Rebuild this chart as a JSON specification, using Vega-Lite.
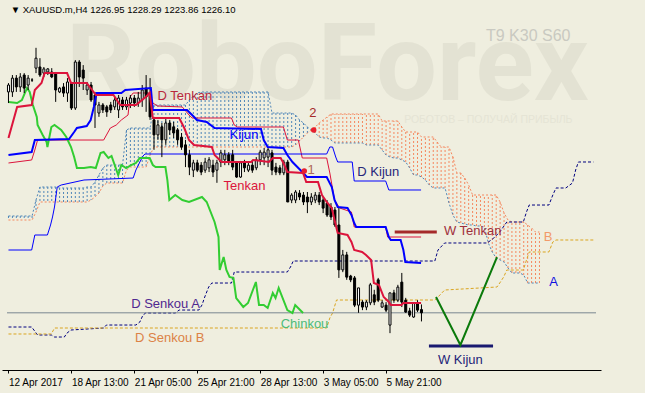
{
"$schema":"https://vega.github.io/schema/vega-lite/v6.json",
"width":599,"height":370,
"padding":{"left":2,"top":0,"right":44,"bottom":23},
"autosize":{"type":"none"},
"background":"#EFEEDF",
"view":{"stroke":null,"fill":"#EFEEDF"},
"config":{"text":{"font":"Liberation Sans"},"axis":{"grid":false,"domainColor":"#000000","tickColor":"#000000","labelColor":"#000000","labelFont":"Liberation Sans","labelFontSize":10,"tickSize":3}},
"datasets":{
"candles":[
{"t":0,"o":1283.7,"h":1286.0,"l":1280.8,"c":1285.5},
{"t":1,"o":1283.7,"h":1288.1,"l":1282.4,"c":1287.3},
{"t":2,"o":1287.3,"h":1288.1,"l":1283.7,"c":1285.0},
{"t":3,"o":1285.0,"h":1288.6,"l":1283.7,"c":1287.6},
{"t":4,"o":1288.1,"h":1288.6,"l":1283.4,"c":1284.7},
{"t":5,"o":1285.5,"h":1288.1,"l":1284.2,"c":1287.3},
{"t":6,"o":1286.8,"h":1287.3,"l":1286.3,"c":1286.8},
{"t":7,"o":1289.9,"h":1295.2,"l":1288.6,"c":1292.5},
{"t":8,"o":1290.2,"h":1292.5,"l":1287.6,"c":1288.1},
{"t":9,"o":1288.6,"h":1290.2,"l":1287.6,"c":1289.7},
{"t":10,"o":1288.9,"h":1289.9,"l":1288.1,"c":1289.7},
{"t":11,"o":1288.9,"h":1289.9,"l":1287.3,"c":1287.6},
{"t":12,"o":1288.6,"h":1288.9,"l":1281.1,"c":1284.2},
{"t":13,"o":1283.7,"h":1285.0,"l":1283.4,"c":1284.7},
{"t":14,"o":1285.0,"h":1286.0,"l":1282.4,"c":1283.4},
{"t":15,"o":1283.4,"h":1287.3,"l":1281.1,"c":1286.3},
{"t":16,"o":1286.0,"h":1286.3,"l":1279.0,"c":1279.5},
{"t":17,"o":1279.5,"h":1292.0,"l":1279.0,"c":1291.5},
{"t":18,"o":1291.5,"h":1292.0,"l":1285.0,"c":1287.6},
{"t":19,"o":1289.4,"h":1290.7,"l":1284.2,"c":1287.3},
{"t":20,"o":1284.2,"h":1286.3,"l":1282.9,"c":1285.5},
{"t":21,"o":1285.5,"h":1286.3,"l":1281.1,"c":1281.6},
{"t":22,"o":1282.9,"h":1283.7,"l":1274.3,"c":1280.3},
{"t":23,"o":1278.2,"h":1281.1,"l":1277.2,"c":1280.3},
{"t":24,"o":1280.3,"h":1280.8,"l":1278.2,"c":1279.0},
{"t":25,"o":1279.8,"h":1280.3,"l":1277.2,"c":1278.5},
{"t":26,"o":1280.3,"h":1281.1,"l":1278.2,"c":1279.0},
{"t":27,"o":1279.8,"h":1282.4,"l":1279.0,"c":1281.6},
{"t":28,"o":1279.0,"h":1282.9,"l":1276.9,"c":1282.1},
{"t":29,"o":1281.6,"h":1282.4,"l":1279.0,"c":1279.8},
{"t":30,"o":1279.8,"h":1282.4,"l":1279.0,"c":1281.6},
{"t":31,"o":1280.8,"h":1282.9,"l":1279.5,"c":1282.1},
{"t":32,"o":1282.1,"h":1282.9,"l":1279.8,"c":1280.8},
{"t":33,"o":1280.8,"h":1283.7,"l":1279.8,"c":1282.1},
{"t":34,"o":1281.6,"h":1285.5,"l":1279.8,"c":1284.2},
{"t":35,"o":1284.7,"h":1288.1,"l":1278.5,"c":1282.4},
{"t":36,"o":1282.9,"h":1287.3,"l":1276.4,"c":1277.2},
{"t":37,"o":1276.4,"h":1277.2,"l":1268.6,"c":1272.5},
{"t":38,"o":1272.5,"h":1276.4,"l":1271.2,"c":1275.1},
{"t":39,"o":1274.6,"h":1275.6,"l":1266.7,"c":1271.2},
{"t":40,"o":1271.2,"h":1276.9,"l":1269.9,"c":1275.6},
{"t":41,"o":1275.6,"h":1276.4,"l":1272.5,"c":1273.8},
{"t":42,"o":1274.6,"h":1275.9,"l":1271.7,"c":1273.0},
{"t":43,"o":1273.8,"h":1274.3,"l":1269.9,"c":1271.2},
{"t":44,"o":1271.9,"h":1273.0,"l":1268.6,"c":1269.3},
{"t":45,"o":1269.9,"h":1271.2,"l":1264.1,"c":1267.3},
{"t":46,"o":1267.3,"h":1268.6,"l":1262.0,"c":1264.1},
{"t":47,"o":1263.3,"h":1266.0,"l":1261.5,"c":1265.2},
{"t":48,"o":1265.2,"h":1266.0,"l":1262.8,"c":1263.3},
{"t":49,"o":1264.6,"h":1265.4,"l":1262.0,"c":1262.8},
{"t":50,"o":1263.3,"h":1266.5,"l":1262.6,"c":1265.4},
{"t":51,"o":1263.9,"h":1266.7,"l":1262.8,"c":1266.0},
{"t":52,"o":1264.6,"h":1266.0,"l":1261.5,"c":1262.8},
{"t":53,"o":1263.3,"h":1266.0,"l":1260.0,"c":1265.2},
{"t":54,"o":1265.4,"h":1268.6,"l":1264.1,"c":1267.8},
{"t":55,"o":1266.0,"h":1268.6,"l":1264.6,"c":1267.3},
{"t":56,"o":1267.3,"h":1268.0,"l":1264.6,"c":1265.4},
{"t":57,"o":1267.3,"h":1268.6,"l":1263.3,"c":1264.1},
{"t":58,"o":1265.2,"h":1265.7,"l":1261.3,"c":1261.5},
{"t":59,"o":1261.5,"h":1265.7,"l":1261.3,"c":1265.2},
{"t":60,"o":1265.4,"h":1266.0,"l":1262.8,"c":1263.9},
{"t":61,"o":1263.3,"h":1265.2,"l":1262.8,"c":1264.6},
{"t":62,"o":1264.6,"h":1266.0,"l":1262.6,"c":1263.3},
{"t":63,"o":1263.9,"h":1266.7,"l":1263.3,"c":1266.0},
{"t":64,"o":1266.0,"h":1268.6,"l":1264.6,"c":1268.0},
{"t":65,"o":1266.5,"h":1269.1,"l":1264.6,"c":1268.0},
{"t":66,"o":1266.7,"h":1269.1,"l":1264.1,"c":1268.6},
{"t":67,"o":1267.8,"h":1268.6,"l":1262.0,"c":1263.3},
{"t":68,"o":1264.1,"h":1265.2,"l":1262.0,"c":1262.8},
{"t":69,"o":1263.9,"h":1264.6,"l":1262.0,"c":1262.6},
{"t":70,"o":1262.6,"h":1266.0,"l":1262.0,"c":1265.4},
{"t":71,"o":1265.4,"h":1266.0,"l":1255.0,"c":1255.0},
{"t":72,"o":1255.5,"h":1257.3,"l":1254.7,"c":1256.8},
{"t":73,"o":1255.5,"h":1258.1,"l":1254.7,"c":1257.6},
{"t":74,"o":1257.3,"h":1258.1,"l":1255.5,"c":1256.3},
{"t":75,"o":1256.8,"h":1257.6,"l":1254.2,"c":1255.0},
{"t":76,"o":1256.3,"h":1257.6,"l":1252.1,"c":1255.0},
{"t":77,"o":1255.0,"h":1257.3,"l":1254.2,"c":1256.3},
{"t":78,"o":1255.5,"h":1257.6,"l":1254.7,"c":1256.8},
{"t":79,"o":1256.8,"h":1257.6,"l":1254.2,"c":1255.0},
{"t":80,"o":1255.5,"h":1256.3,"l":1252.1,"c":1253.4},
{"t":81,"o":1254.7,"h":1255.5,"l":1251.1,"c":1251.6},
{"t":82,"o":1253.7,"h":1254.7,"l":1250.3,"c":1251.1},
{"t":83,"o":1252.9,"h":1253.7,"l":1248.5,"c":1249.0},
{"t":84,"o":1249.0,"h":1253.7,"l":1235.2,"c":1237.3},
{"t":85,"o":1237.3,"h":1242.5,"l":1236.7,"c":1241.2},
{"t":86,"o":1241.2,"h":1242.0,"l":1234.7,"c":1235.4},
{"t":87,"o":1235.7,"h":1236.0,"l":1234.1,"c":1234.7},
{"t":88,"o":1235.2,"h":1235.7,"l":1227.6,"c":1228.1},
{"t":89,"o":1228.1,"h":1232.6,"l":1226.1,"c":1232.6},
{"t":90,"o":1228.9,"h":1229.4,"l":1226.8,"c":1227.6},
{"t":91,"o":1227.6,"h":1229.4,"l":1226.8,"c":1228.9},
{"t":92,"o":1228.7,"h":1233.9,"l":1228.1,"c":1233.4},
{"t":93,"o":1230.8,"h":1232.1,"l":1228.1,"c":1228.9},
{"t":94,"o":1234.7,"h":1235.2,"l":1228.9,"c":1229.4},
{"t":95,"o":1227.6,"h":1229.4,"l":1227.4,"c":1228.7},
{"t":96,"o":1228.1,"h":1228.9,"l":1226.3,"c":1226.8},
{"t":97,"o":1222.9,"h":1231.3,"l":1220.8,"c":1231.3},
{"t":98,"o":1231.3,"h":1232.1,"l":1228.7,"c":1229.4},
{"t":99,"o":1229.4,"h":1233.4,"l":1228.9,"c":1232.8},
{"t":100,"o":1234.1,"h":1236.5,"l":1227.6,"c":1228.9},
{"t":101,"o":1229.4,"h":1230.0,"l":1226.1,"c":1226.3},
{"t":102,"o":1226.6,"h":1227.4,"l":1225.0,"c":1225.5},
{"t":103,"o":1225.0,"h":1228.9,"l":1224.8,"c":1228.7},
{"t":104,"o":1228.7,"h":1229.4,"l":1226.3,"c":1226.8},
{"t":105,"o":1226.95,"h":1228.29,"l":1223.86,"c":1226.10}
],
"cloud":[
{"t":0,"a":1251.35,"b":1250.3},{"t":1,"a":1251.35,"b":1250.3},{"t":2,"a":1251.35,"b":1250.3},{"t":3,"a":1251.35,"b":1250.3},{"t":4,"a":1251.35,"b":1250.3},{"t":5,"a":1251.35,"b":1250.3},{"t":6,"a":1251.35,"b":1250.3},
{"t":7,"a":1255.52,"b":1252.39},
{"t":8,"a":1258.91,"b":1255.0},{"t":9,"a":1258.91,"b":1255.0},{"t":10,"a":1258.91,"b":1255.0},{"t":11,"a":1258.91,"b":1255.0},{"t":12,"a":1258.91,"b":1255.0},
{"t":13,"a":1258.65,"b":1255.0},{"t":14,"a":1258.65,"b":1255.0},{"t":15,"a":1258.65,"b":1255.0},{"t":16,"a":1258.65,"b":1255.0},{"t":17,"a":1258.65,"b":1255.0},{"t":18,"a":1258.65,"b":1255.0},{"t":19,"a":1258.65,"b":1255.0},
{"t":20,"a":1258.91,"b":1255.0},{"t":21,"a":1258.91,"b":1255.52},{"t":22,"a":1260.21,"b":1256.3},{"t":23,"a":1262.04,"b":1257.34},{"t":24,"a":1263.86,"b":1259.17},
{"t":25,"a":1264.64,"b":1259.95},{"t":26,"a":1264.64,"b":1259.95},{"t":27,"a":1264.64,"b":1259.95},{"t":28,"a":1264.64,"b":1259.95},{"t":29,"a":1264.64,"b":1259.95},
{"t":30,"a":1273.77,"b":1263.34},
{"t":31,"a":1274.29,"b":1264.12},{"t":32,"a":1274.29,"b":1264.12},{"t":33,"a":1274.29,"b":1264.12},{"t":34,"a":1274.29,"b":1264.12},{"t":35,"a":1274.29,"b":1264.12},
{"t":36,"a":1274.29,"b":1267.25},
{"t":37,"a":1280.29,"b":1269.34},{"t":38,"a":1280.29,"b":1269.34},{"t":39,"a":1280.29,"b":1269.34},{"t":40,"a":1280.29,"b":1269.34},{"t":41,"a":1280.29,"b":1269.34},{"t":42,"a":1280.29,"b":1269.34},{"t":43,"a":1280.29,"b":1269.34},{"t":44,"a":1280.29,"b":1269.34},{"t":45,"a":1280.29,"b":1269.34},
{"t":46,"a":1281.59,"b":1269.34},{"t":47,"a":1282.64,"b":1269.34},{"t":48,"a":1283.42,"b":1269.34},
{"t":49,"a":1283.68,"b":1269.34},{"t":50,"a":1283.68,"b":1269.34},{"t":51,"a":1283.68,"b":1269.34},{"t":52,"a":1283.68,"b":1269.34},{"t":53,"a":1283.68,"b":1269.34},{"t":54,"a":1283.68,"b":1269.34},{"t":55,"a":1283.68,"b":1269.34},{"t":56,"a":1283.68,"b":1269.34},{"t":57,"a":1283.68,"b":1269.34},{"t":58,"a":1283.68,"b":1269.34},{"t":59,"a":1283.68,"b":1269.34},{"t":60,"a":1283.68,"b":1269.34},{"t":61,"a":1283.68,"b":1269.34},{"t":62,"a":1283.68,"b":1269.34},{"t":63,"a":1283.68,"b":1269.34},{"t":64,"a":1283.68,"b":1269.34},{"t":65,"a":1283.68,"b":1269.34},{"t":66,"a":1283.68,"b":1269.34},
{"t":67,"a":1278.2,"b":1269.34},{"t":68,"a":1278.2,"b":1269.34},{"t":69,"a":1278.2,"b":1269.34},{"t":70,"a":1278.2,"b":1269.34},{"t":71,"a":1278.2,"b":1269.34},{"t":72,"a":1278.2,"b":1269.34},
{"t":73,"a":1277.68,"b":1269.86},{"t":74,"a":1276.38,"b":1270.9},{"t":75,"a":1275.6,"b":1271.95},{"t":76,"a":1274.55,"b":1272.99},{"t":77,"a":1273.77,"b":1273.77},{"t":78,"a":1272.99,"b":1274.55},{"t":79,"a":1271.95,"b":1275.6},{"t":80,"a":1271.69,"b":1276.38},{"t":81,"a":1271.69,"b":1277.16},{"t":82,"a":1271.16,"b":1277.94},
{"t":83,"a":1270.38,"b":1277.94},{"t":84,"a":1270.38,"b":1277.94},{"t":85,"a":1270.38,"b":1277.94},{"t":86,"a":1270.38,"b":1277.94},{"t":87,"a":1270.38,"b":1277.94},{"t":88,"a":1270.38,"b":1277.94},{"t":89,"a":1270.38,"b":1277.94},{"t":90,"a":1270.38,"b":1277.94},
{"t":91,"a":1269.86,"b":1277.94},{"t":92,"a":1269.86,"b":1277.94},{"t":93,"a":1269.86,"b":1277.94},{"t":94,"a":1269.86,"b":1277.94},
{"t":95,"a":1268.56,"b":1276.12},{"t":96,"a":1267.25,"b":1276.12},{"t":97,"a":1266.73,"b":1276.12},{"t":98,"a":1266.47,"b":1276.12},{"t":99,"a":1266.47,"b":1276.12},
{"t":100,"a":1265.95,"b":1274.55},{"t":101,"a":1265.43,"b":1273.25},{"t":102,"a":1263.86,"b":1273.25},{"t":103,"a":1262.04,"b":1273.25},{"t":104,"a":1262.04,"b":1273.25},
{"t":105,"a":1261.52,"b":1271.95},{"t":106,"a":1260.73,"b":1271.95},{"t":107,"a":1259.43,"b":1271.95},{"t":108,"a":1258.65,"b":1271.95},{"t":109,"a":1258.65,"b":1270.64},{"t":110,"a":1258.65,"b":1269.34},{"t":111,"a":1258.65,"b":1269.34},
{"t":112,"a":1254.74,"b":1269.34},{"t":113,"a":1251.61,"b":1266.73},{"t":114,"a":1249.78,"b":1262.56},{"t":115,"a":1249.52,"b":1262.56},{"t":116,"a":1249.26,"b":1261.25},{"t":117,"a":1249.0,"b":1259.43},{"t":118,"a":1249.0,"b":1256.82},
{"t":119,"a":1248.74,"b":1256.82},{"t":120,"a":1248.74,"b":1256.82},{"t":121,"a":1248.48,"b":1256.82},{"t":122,"a":1244.31,"b":1256.82},{"t":123,"a":1241.96,"b":1256.82},{"t":124,"a":1240.4,"b":1256.82},
{"t":125,"a":1239.87,"b":1255.0},{"t":126,"a":1239.35,"b":1252.13},{"t":127,"a":1237.79,"b":1250.3},{"t":128,"a":1236.48,"b":1249.78},{"t":129,"a":1236.48,"b":1249.78},{"t":130,"a":1236.48,"b":1249.78},{"t":131,"a":1235.96,"b":1249.78},
{"t":132,"a":1233.87,"b":1249.0},{"t":133,"a":1233.87,"b":1248.22},{"t":134,"a":1233.87,"b":1247.17},{"t":135,"a":1233.87,"b":1247.17}
],
"lines":[
{"s":"tenkan","t":0,"p":1271.69},{"s":"tenkan","t":2.2,"p":1279.77},{"s":"tenkan","t":5.9,"p":1280.29},{"s":"tenkan","t":6.7,"p":1284.2},{"s":"tenkan","t":8.4,"p":1286.03},{"s":"tenkan","t":9.2,"p":1288.63},{"s":"tenkan","t":14.9,"p":1288.63},{"s":"tenkan","t":15.9,"p":1286.03},{"s":"tenkan","t":19.9,"p":1286.03},{"s":"tenkan","t":20.9,"p":1284.72},{"s":"tenkan","t":22.2,"p":1282.9},{"s":"tenkan","t":26.7,"p":1282.9},{"s":"tenkan","t":28.4,"p":1280.29},{"s":"tenkan","t":32.4,"p":1280.29},{"s":"tenkan","t":34.9,"p":1282.38},{"s":"tenkan","t":35.9,"p":1283.42},{"s":"tenkan","t":36.7,"p":1276.9},{"s":"tenkan","t":43.4,"p":1276.9},{"s":"tenkan","t":44.7,"p":1274.29},{"s":"tenkan","t":45.9,"p":1271.16},{"s":"tenkan","t":47.2,"p":1269.86},{"s":"tenkan","t":51.7,"p":1269.34},{"s":"tenkan","t":52.4,"p":1267.25},{"s":"tenkan","t":54.2,"p":1265.43},{"s":"tenkan","t":61.7,"p":1265.43},{"s":"tenkan","t":62.2,"p":1265.95},{"s":"tenkan","t":66.2,"p":1265.43},{"s":"tenkan","t":67.2,"p":1266.47},{"s":"tenkan","t":69.2,"p":1266.47},{"s":"tenkan","t":69.9,"p":1265.17},{"s":"tenkan","t":70.9,"p":1262.82},{"s":"tenkan","t":74.9,"p":1262.56},{"s":"tenkan","t":75.7,"p":1260.21},{"s":"tenkan","t":78.7,"p":1260.21},{"s":"tenkan","t":79.7,"p":1256.82},{"s":"tenkan","t":80.9,"p":1255.0},{"s":"tenkan","t":82.2,"p":1253.43},{"s":"tenkan","t":82.9,"p":1250.3},{"s":"tenkan","t":83.7,"p":1246.91},{"s":"tenkan","t":86.2,"p":1246.39},{"s":"tenkan","t":87.2,"p":1244.57},{"s":"tenkan","t":87.9,"p":1242.48},{"s":"tenkan","t":89.9,"p":1241.96},{"s":"tenkan","t":90.9,"p":1241.18},{"s":"tenkan","t":92.2,"p":1239.87},{"s":"tenkan","t":92.9,"p":1233.87},{"s":"tenkan","t":94.2,"p":1233.35},{"s":"tenkan","t":95.4,"p":1230.22},{"s":"tenkan","t":96.7,"p":1228.92},{"s":"tenkan","t":97.2,"p":1228.14},{"s":"tenkan","t":99.9,"p":1228.14},{"s":"tenkan","t":100.4,"p":1228.66},{"s":"tenkan","t":104.9,"p":1228.66},
{"s":"kijun","t":0,"p":1267.25},{"s":"kijun","t":5.9,"p":1268.03},{"s":"kijun","t":6.7,"p":1271.16},{"s":"kijun","t":15.4,"p":1271.42},{"s":"kijun","t":16.7,"p":1273.25},{"s":"kijun","t":17.4,"p":1274.29},{"s":"kijun","t":19.9,"p":1274.81},{"s":"kijun","t":20.9,"p":1276.38},{"s":"kijun","t":21.7,"p":1279.77},{"s":"kijun","t":22.4,"p":1283.42},{"s":"kijun","t":28.7,"p":1283.42},{"s":"kijun","t":29.7,"p":1284.2},{"s":"kijun","t":36.2,"p":1284.72},{"s":"kijun","t":36.7,"p":1278.99},{"s":"kijun","t":45.4,"p":1278.99},{"s":"kijun","t":47.2,"p":1277.16},{"s":"kijun","t":47.9,"p":1276.38},{"s":"kijun","t":50.4,"p":1275.86},{"s":"kijun","t":52.4,"p":1274.29},{"s":"kijun","t":64.2,"p":1274.03},{"s":"kijun","t":64.9,"p":1271.16},{"s":"kijun","t":65.9,"p":1269.34},{"s":"kijun","t":69.9,"p":1269.08},{"s":"kijun","t":70.9,"p":1267.25},{"s":"kijun","t":72.2,"p":1265.43},{"s":"kijun","t":74.2,"p":1263.34},{"s":"kijun","t":75.9,"p":1261.52},{"s":"kijun","t":80.9,"p":1261.52},{"s":"kijun","t":82.2,"p":1258.91},{"s":"kijun","t":82.9,"p":1255.52},{"s":"kijun","t":83.7,"p":1253.69},{"s":"kijun","t":86.2,"p":1253.43},{"s":"kijun","t":87.2,"p":1251.61},{"s":"kijun","t":87.9,"p":1249.52},{"s":"kijun","t":88.4,"p":1248.48},{"s":"kijun","t":95.9,"p":1248.48},{"s":"kijun","t":96.7,"p":1245.87},{"s":"kijun","t":97.2,"p":1245.09},{"s":"kijun","t":99.7,"p":1245.09},{"s":"kijun","t":100.4,"p":1242.48},{"s":"kijun","t":100.9,"p":1239.35},{"s":"kijun","t":104.9,"p":1239.09},
{"s":"chikou","t":0,"p":1281.07},{"s":"chikou","t":2.2,"p":1280.81},{"s":"chikou","t":3.4,"p":1281.59},{"s":"chikou","t":4.7,"p":1284.72},{"s":"chikou","t":5.4,"p":1283.68},{"s":"chikou","t":6.2,"p":1280.29},{"s":"chikou","t":7.2,"p":1277.16},{"s":"chikou","t":7.4,"p":1275.07},{"s":"chikou","t":8.7,"p":1272.47},{"s":"chikou","t":9.7,"p":1270.64},{"s":"chikou","t":9.9,"p":1269.34},{"s":"chikou","t":10.9,"p":1274.55},{"s":"chikou","t":11.7,"p":1275.07},{"s":"chikou","t":13.4,"p":1273.77},{"s":"chikou","t":14.7,"p":1271.95},{"s":"chikou","t":15.9,"p":1269.34},{"s":"chikou","t":16.7,"p":1266.73},{"s":"chikou","t":17.4,"p":1263.86},{"s":"chikou","t":19.2,"p":1263.86},{"s":"chikou","t":20.9,"p":1264.12},{"s":"chikou","t":22.2,"p":1263.86},{"s":"chikou","t":23.4,"p":1267.77},{"s":"chikou","t":24.2,"p":1268.03},{"s":"chikou","t":25.4,"p":1266.47},{"s":"chikou","t":26.2,"p":1266.99},{"s":"chikou","t":27.9,"p":1262.04},{"s":"chikou","t":28.7,"p":1264.64},{"s":"chikou","t":29.9,"p":1263.86},{"s":"chikou","t":31.2,"p":1264.64},{"s":"chikou","t":32.4,"p":1265.17},{"s":"chikou","t":33.4,"p":1266.47},{"s":"chikou","t":35.9,"p":1266.47},{"s":"chikou","t":36.7,"p":1264.64},{"s":"chikou","t":37.4,"p":1264.12},{"s":"chikou","t":39.9,"p":1264.12},{"s":"chikou","t":40.4,"p":1260.73},{"s":"chikou","t":40.9,"p":1255.52},{"s":"chikou","t":42.4,"p":1256.82},{"s":"chikou","t":44.2,"p":1255.52},{"s":"chikou","t":45.9,"p":1255.0},{"s":"chikou","t":49.2,"p":1256.3},{"s":"chikou","t":50.4,"p":1255.0},{"s":"chikou","t":52.4,"p":1249.78},{"s":"chikou","t":53.4,"p":1245.87},{"s":"chikou","t":53.7,"p":1237.26},{"s":"chikou","t":54.7,"p":1240.65},{"s":"chikou","t":55.4,"p":1237.26},{"s":"chikou","t":56.2,"p":1235.44},{"s":"chikou","t":57.2,"p":1235.18},{"s":"chikou","t":57.9,"p":1229.96},{"s":"chikou","t":59.7,"p":1227.62},{"s":"chikou","t":60.9,"p":1228.66},{"s":"chikou","t":62.9,"p":1234.14},{"s":"chikou","t":63.7,"p":1228.14},{"s":"chikou","t":64.9,"p":1228.14},{"s":"chikou","t":65.9,"p":1227.36},{"s":"chikou","t":67.2,"p":1231.27},{"s":"chikou","t":67.9,"p":1229.96},{"s":"chikou","t":68.7,"p":1232.57},{"s":"chikou","t":70.9,"p":1226.83},{"s":"chikou","t":72.2,"p":1226.05},{"s":"chikou","t":72.9,"p":1228.14},{"s":"chikou","t":74.9,"p":1226.05},
{"s":"dtenkan","t":0,"p":1265.17},{"s":"dtenkan","t":5.9,"p":1265.95},{"s":"dtenkan","t":6.7,"p":1268.56},{"s":"dtenkan","t":7.4,"p":1271.16},{"s":"dtenkan","t":24.2,"p":1271.16},{"s":"dtenkan","t":25.9,"p":1274.29},{"s":"dtenkan","t":27.4,"p":1275.07},{"s":"dtenkan","t":28.7,"p":1276.38},{"s":"dtenkan","t":30.4,"p":1277.68},{"s":"dtenkan","t":30.9,"p":1282.38},{"s":"dtenkan","t":31.7,"p":1283.42},{"s":"dtenkan","t":35.9,"p":1283.42},{"s":"dtenkan","t":36.7,"p":1280.81},{"s":"dtenkan","t":37.9,"p":1280.03},{"s":"dtenkan","t":44.2,"p":1279.77},{"s":"dtenkan","t":45.9,"p":1277.68},{"s":"dtenkan","t":46.7,"p":1276.9},{"s":"dtenkan","t":56.7,"p":1276.9},{"s":"dtenkan","t":57.4,"p":1275.07},{"s":"dtenkan","t":58.2,"p":1274.55},{"s":"dtenkan","t":69.9,"p":1274.55},{"s":"dtenkan","t":70.9,"p":1271.16},{"s":"dtenkan","t":73.7,"p":1271.16},{"s":"dtenkan","t":74.7,"p":1266.47},{"s":"dtenkan","t":80.9,"p":1266.47},{"s":"dtenkan","t":81.7,"p":1262.56},{"s":"dtenkan","t":82.9,"p":1255.52},{"s":"dtenkan","t":84.2,"p":1253.43},{"s":"dtenkan","t":87.2,"p":1252.39},{"s":"dtenkan","t":87.9,"p":1248.48},{"s":"dtenkan","t":95.9,"p":1248.48},{"s":"dtenkan","t":96.4,"p":1245.87},{"s":"dtenkan","t":104.9,"p":1245.87},
{"s":"dkijun","t":0,"p":1242.48},{"s":"dkijun","t":5.9,"p":1242.48},{"s":"dkijun","t":6.7,"p":1246.39},{"s":"dkijun","t":9.9,"p":1246.39},{"s":"dkijun","t":10.7,"p":1249.0},{"s":"dkijun","t":11.2,"p":1251.09},{"s":"dkijun","t":11.7,"p":1253.69},{"s":"dkijun","t":12.4,"p":1258.91},{"s":"dkijun","t":13.4,"p":1259.43},{"s":"dkijun","t":19.2,"p":1260.73},{"s":"dkijun","t":31.7,"p":1261.25},{"s":"dkijun","t":32.4,"p":1263.34},{"s":"dkijun","t":33.4,"p":1265.43},{"s":"dkijun","t":34.2,"p":1266.99},{"s":"dkijun","t":34.7,"p":1267.51},{"s":"dkijun","t":80.9,"p":1267.51},{"s":"dkijun","t":81.7,"p":1269.34},{"s":"dkijun","t":82.4,"p":1269.34},{"s":"dkijun","t":83.2,"p":1266.73},{"s":"dkijun","t":83.7,"p":1265.43},{"s":"dkijun","t":87.4,"p":1265.43},{"s":"dkijun","t":87.9,"p":1260.47},{"s":"dkijun","t":95.9,"p":1260.47},{"s":"dkijun","t":96.7,"p":1258.13},{"s":"dkijun","t":104.9,"p":1258.13},
{"s":"dsa","t":0,"p":1222.4},{"s":"dsa","t":5.9,"p":1222.4},{"s":"dsa","t":7.4,"p":1220.32},{"s":"dsa","t":10.9,"p":1220.32},{"s":"dsa","t":11.7,"p":1219.79},{"s":"dsa","t":14.2,"p":1219.79},{"s":"dsa","t":14.9,"p":1220.84},{"s":"dsa","t":15.9,"p":1221.62},{"s":"dsa","t":24.2,"p":1222.14},{"s":"dsa","t":24.9,"p":1222.92},{"s":"dsa","t":32.4,"p":1222.92},{"s":"dsa","t":33.4,"p":1223.71},{"s":"dsa","t":34.2,"p":1225.53},{"s":"dsa","t":34.9,"p":1226.05},{"s":"dsa","t":42.4,"p":1226.05},{"s":"dsa","t":43.4,"p":1226.83},{"s":"dsa","t":48.4,"p":1226.83},{"s":"dsa","t":49.2,"p":1228.14},{"s":"dsa","t":49.9,"p":1230.22},{"s":"dsa","t":50.9,"p":1232.83},{"s":"dsa","t":51.7,"p":1233.87},{"s":"dsa","t":56.7,"p":1233.87},{"s":"dsa","t":57.4,"p":1236.74},{"s":"dsa","t":70.9,"p":1236.74},{"s":"dsa","t":71.7,"p":1238.05},{"s":"dsa","t":72.4,"p":1239.61},{"s":"dsa","t":108.4,"p":1239.61},{"s":"dsa","t":109.2,"p":1242.48},{"s":"dsa","t":110.9,"p":1244.31},{"s":"dsa","t":121.7,"p":1244.31},{"s":"dsa","t":123.4,"p":1245.61},{"s":"dsa","t":124.9,"p":1247.17},{"s":"dsa","t":126.7,"p":1249.78},{"s":"dsa","t":130.9,"p":1249.78},{"s":"dsa","t":131.7,"p":1252.39},{"s":"dsa","t":132.4,"p":1254.21},{"s":"dsa","t":137.4,"p":1254.21},{"s":"dsa","t":138.4,"p":1256.82},{"s":"dsa","t":139.2,"p":1258.65},{"s":"dsa","t":141.7,"p":1258.65},{"s":"dsa","t":143.4,"p":1259.95},{"s":"dsa","t":144.2,"p":1263.34},{"s":"dsa","t":144.9,"p":1265.43},{"s":"dsa","t":148.7,"p":1265.43},
{"s":"dsb","t":0,"p":1220.58},{"s":"dsb","t":10.9,"p":1220.58},{"s":"dsb","t":11.7,"p":1222.14},{"s":"dsb","t":80.9,"p":1222.14},{"s":"dsb","t":81.7,"p":1224.75},{"s":"dsb","t":82.4,"p":1226.05},{"s":"dsb","t":83.4,"p":1229.44},{"s":"dsb","t":108.4,"p":1229.44},{"s":"dsb","t":109.2,"p":1230.22},{"s":"dsb","t":110.9,"p":1232.05},{"s":"dsb","t":124.2,"p":1232.83},{"s":"dsb","t":124.9,"p":1233.87},{"s":"dsb","t":125.9,"p":1235.44},{"s":"dsb","t":126.7,"p":1237.26},{"s":"dsb","t":130.9,"p":1237.26},{"s":"dsb","t":131.7,"p":1239.87},{"s":"dsb","t":132.4,"p":1241.96},{"s":"dsb","t":137.4,"p":1241.96},{"s":"dsb","t":138.4,"p":1244.57},{"s":"dsb","t":139.2,"p":1245.09},{"s":"dsb","t":148.7,"p":1245.09},
{"s":"wtenkan","t":98.2,"p":1247.17},{"s":"wtenkan","t":108.9,"p":1247.17},
{"s":"wkijun","t":106.9,"p":1217.45},{"s":"wkijun","t":123.2,"p":1217.45},
{"s":"v","t":108.7,"p":1230.22},{"s":"v","t":114.9,"p":1217.71},{"s":"v","t":124.2,"p":1240.65},
{"s":"price","t":-0.375,"p":1226.1},{"s":"price","t":149.375,"p":1226.1}
],
"labels":[
{"text":"RoboForex","t":14.6,"p":1281.59},
{"text":"РОБОТОВ – ПОЛУЧАЙ ПРИБЫЛЬ","t":100.6,"p":1276.38},
{"text":"▼","t":0.6,"p":1305.06},
{"text":"XAUUSD.m,H4  1226.95 1228.29 1223.86 1226.10","t":3.6,"p":1305.06},
{"text":"T9 K30 S60","t":121.4,"p":1298.28},
{"text":"D Tenkan","t":37.9,"p":1282.64},
{"text":"Kijun","t":56.2,"p":1272.47},
{"text":"Tenkan","t":54.7,"p":1259.17},
{"text":"D Kijun","t":88.7,"p":1262.82},
{"text":"W Tenkan","t":110.7,"p":1247.43},
{"text":"D Senkou A","t":31.2,"p":1228.4},
{"text":"D Senkou B","t":32.2,"p":1219.53},
{"text":"Chinkou","t":69.2,"p":1223.18},
{"text":"W Kijun","t":109.2,"p":1213.8},
{"text":"1","t":76.0,"p":1263.34},
{"text":"2","t":76.5,"p":1278.2},
{"text":"A","t":137.5,"p":1234.14},
{"text":"B","t":136.1,"p":1245.87}
],
"marks":[{"t":77.6,"p":1273.77},{"t":75.2,"p":1263.08}]
},
"encoding":{
"x":{"field":"t","type":"quantitative","scale":{"domain":[-0.375,149.375],"nice":false,"zero":false},
"axis":{"orient":"bottom","title":null,"values":[0,16,32,48,64,80,96],"labelAlign":"left","labelPadding":4,"labelFlush":false,"labelOverlap":false,
"labelExpr":"datum.value == 0 ? '12 Apr 2017' : datum.value == 16 ? '18 Apr 13:00' : datum.value == 32 ? '21 Apr 05:00' : datum.value == 48 ? '25 Apr 21:00' : datum.value == 64 ? '28 Apr 13:00' : datum.value == 80 ? '3 May 05:00' : '5 May 21:00'"}},
"y":{"field":"p","type":"quantitative","scale":{"domain":[1211.19,1307.67],"nice":false,"zero":false},
"axis":{"orient":"right","title":null,"values":[1306.55,1298.05,1289.55,1280.8,1272.3,1263.55,1255.05,1246.3,1237.8,1229.05,1220.55,1212.05],"format":".2f","labelPadding":2,"labelFlush":false,"labelOverlap":false}}
},
"layer":[
{"data":{"name":"labels"},"transform":[{"filter":"datum.text == 'RoboForex'"}],"mark":{"type":"text","font":"Roboto","fontWeight":"bold","fontSize":108,"align":"left","baseline":"alphabetic","color":"#E3E2D3"},"encoding":{"text":{"field":"text"}}},
{"data":{"name":"labels"},"transform":[{"filter":"indexof(datum.text, 'РОБОТОВ') >= 0"}],"mark":{"type":"text","fontSize":10.5,"align":"left","baseline":"middle","color":"#E5E4D5"},"encoding":{"text":{"field":"text"}}},
{"data":{"name":"cloud"},"mark":{"type":"rule","strokeWidth":1,"strokeDash":[2,2]},"encoding":{
"y":{"field":"a","type":"quantitative","scale":{"domain":[1211.19,1307.67],"nice":false,"zero":false},"axis":null},
"y2":{"field":"b"},
"color":{"condition":{"test":"datum.a >= datum.b","value":"#4F86B8"},"value":"#F5875E"}}},
{"data":{"name":"cloud"},"mark":{"type":"line","strokeWidth":1,"strokeDash":[2,2],"color":"#4F86B8"},"encoding":{
"y":{"field":"a","type":"quantitative","scale":{"domain":[1211.19,1307.67],"nice":false,"zero":false},"axis":null}}},
{"data":{"name":"cloud"},"mark":{"type":"line","strokeWidth":1,"strokeDash":[2,2],"color":"#F5875E"},"encoding":{
"y":{"field":"b","type":"quantitative","scale":{"domain":[1211.19,1307.67],"nice":false,"zero":false},"axis":null}}},
{"data":{"name":"lines"},"transform":[{"filter":"datum.s == 'dsa'"}],"mark":{"type":"line","strokeWidth":1,"strokeDash":[3,2],"color":"#000080"}},
{"data":{"name":"lines"},"transform":[{"filter":"datum.s == 'dsb'"}],"mark":{"type":"line","strokeWidth":1,"strokeDash":[3,2],"color":"#DAA520"}},
{"data":{"name":"lines"},"transform":[{"filter":"datum.s == 'price'"}],"mark":{"type":"line","strokeWidth":1,"color":"#7A8690"}},
{"data":{"name":"lines"},"transform":[{"filter":"datum.s == 'dtenkan'"}],"mark":{"type":"line","strokeWidth":1,"color":"#DC143C"}},
{"data":{"name":"lines"},"transform":[{"filter":"datum.s == 'dkijun'"}],"mark":{"type":"line","strokeWidth":1,"color":"#0000FF"}},
{"data":{"name":"lines"},"transform":[{"filter":"datum.s == 'chikou'"}],"mark":{"type":"line","strokeWidth":2,"color":"#32CD32"}},
{"data":{"name":"candles"},"mark":{"type":"rule","color":"#000000","strokeWidth":1},"encoding":{
"y":{"field":"l","type":"quantitative","scale":{"domain":[1211.19,1307.67],"nice":false,"zero":false},"axis":null},
"y2":{"field":"h"}}},
{"data":{"name":"candles"},"mark":{"type":"bar","size":2,"orient":"vertical","stroke":"#000000","strokeWidth":1},"encoding":{
"y":{"field":"o","type":"quantitative","scale":{"domain":[1211.19,1307.67],"nice":false,"zero":false},"axis":null},
"y2":{"field":"c"},
"fill":{"condition":{"test":"datum.c >= datum.o","value":"#FFFFFF"},"value":"#000000"}}},
{"data":{"name":"lines"},"transform":[{"filter":"datum.s == 'kijun'"}],"mark":{"type":"line","strokeWidth":2,"color":"#0000FF"}},
{"data":{"name":"lines"},"transform":[{"filter":"datum.s == 'tenkan'"}],"mark":{"type":"line","strokeWidth":2,"color":"#DC143C"}},
{"data":{"name":"lines"},"transform":[{"filter":"datum.s == 'wtenkan'"}],"mark":{"type":"line","strokeWidth":3,"color":"#A52A2A"}},
{"data":{"name":"lines"},"transform":[{"filter":"datum.s == 'wkijun'"}],"mark":{"type":"line","strokeWidth":3,"color":"#191970"}},
{"data":{"name":"lines"},"transform":[{"filter":"datum.s == 'v'"}],"mark":{"type":"line","strokeWidth":2,"color":"#0B7A0B"}},
{"data":{"name":"marks"},"mark":{"type":"point","filled":true,"size":30,"color":"#E8202E","opacity":1}},
{"data":{"name":"labels"},"transform":[{"filter":"datum.text == '▼' || indexof(datum.text, 'XAUUSD') >= 0"}],"mark":{"type":"text","fontSize":9.5,"align":"left","baseline":"middle","color":"#000000"},"encoding":{"text":{"field":"text"}}},
{"data":{"name":"labels"},"transform":[{"filter":"datum.text == 'T9 K30 S60'"}],"mark":{"type":"text","fontSize":16,"align":"left","baseline":"middle","color":"#C9C9C1"},"encoding":{"text":{"field":"text"}}},
{"data":{"name":"labels"},"transform":[{"filter":{"field":"text","oneOf":["D Tenkan","Kijun","Tenkan","D Kijun","W Tenkan","D Senkou A","D Senkou B","Chinkou","W Kijun","1","2","A","B"]}}],
"mark":{"type":"text","align":"left","baseline":"middle"},
"encoding":{"text":{"field":"text"},
"color":{"field":"text","type":"nominal","legend":null,"scale":{"domain":["D Tenkan","Kijun","Tenkan","D Kijun","W Tenkan","D Senkou A","D Senkou B","Chinkou","W Kijun","1","2","A","B"],"range":["#B8283C","#0000FF","#DC143C","#26267A","#A0303C","#502890","#DC8246","#4CBB78","#1E1E78","#B06858","#A52A2A","#1010E0","#F29A6A"]}},
"size":{"field":"text","type":"ordinal","legend":null,"scale":{"domain":["D Tenkan","Kijun","Tenkan","D Kijun","W Tenkan","D Senkou A","D Senkou B","Chinkou","W Kijun","1","2","A","B"],"range":[13,13,13,13,13,13,13,13,13,20,20,19,20]}}}},
{"data":{"values":[{}]},"mark":{"type":"rect","color":"#000000"},"encoding":{"x":{"datum":149.6},"x2":{"datum":159.9},"y":{"datum":1227.49},"y2":{"datum":1224.49}}},
{"data":{"values":[{}]},"mark":{"type":"text","color":"#FFFFFF","fontSize":10,"align":"left","baseline":"middle","text":"1226.10"},"encoding":{"x":{"datum":150.3},"y":{"datum":1226.1}}},
{"data":{"values":[{}]},"mark":{"type":"rule","color":"#000000","strokeWidth":1},"encoding":{"x":{"datum":-0.25},"y":{"datum":1211.19},"y2":{"datum":1307.67}}}
]
}
